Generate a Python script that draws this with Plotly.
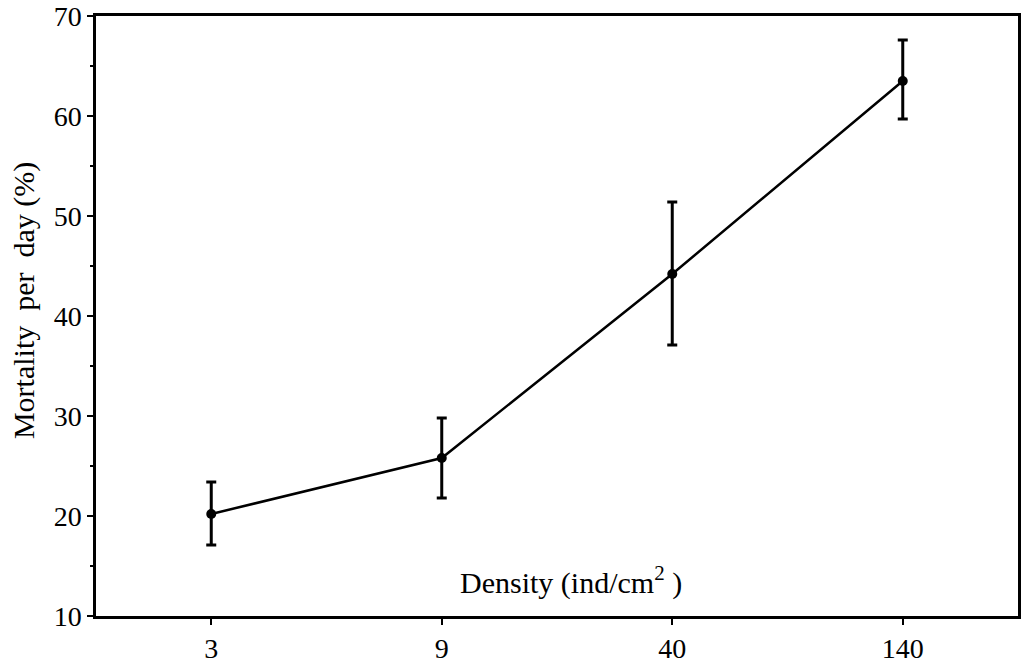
import plotly.graph_objects as go

densities = ["3", "9", "40", "140"]
mortality = [20.2, 25.8, 44.2, 63.5]
err_plus = [3.2, 4.0, 7.2, 4.1]
err_minus = [3.1, 4.0, 7.1, 3.8]
y_ticks = [10, 20, 30, 40, 50, 60, 70]

FONT = "Liberation Serif"

fig = go.Figure()
fig.add_trace(go.Scatter(
    x=densities, y=mortality, mode="lines+markers",
    line=dict(color="black", width=2.5),
    marker=dict(color="black", size=10),
    error_y=dict(type="data", symmetric=False, array=err_plus, arrayminus=err_minus,
                 color="black", thickness=3, width=5),
    showlegend=False,
))

fig.add_annotation(
    xref="paper", yref="paper", x=0.515, y=0.06, xanchor="center", yanchor="middle",
    text="Density\u00a0(ind/cm<sup>2</sup>\u00a0)", showarrow=False,
    font=dict(family=FONT, size=30, color="black"),
)

fig.add_annotation(
    xref="paper", yref="paper", x=-0.078, y=0.525, xanchor="center", yanchor="middle",
    text="Mortality\u00a0\u00a0per\u00a0\u00a0day\u00a0(%)", showarrow=False, textangle=-90,
    font=dict(family=FONT, size=30, color="black"),
)

fig.update_layout(
    width=1022, height=668,
    margin=dict(l=96, r=1, t=13, b=52),
    paper_bgcolor="white", plot_bgcolor="white",
    font=dict(family=FONT, size=28, color="black"),
    xaxis=dict(
        type="category", range=[-0.5, 3.5],
        showgrid=False, zeroline=False,
        showline=True, linecolor="black", linewidth=2.5, mirror=True,
        ticks="outside", ticklen=6, tickwidth=2, tickcolor="black",
        tickfont=dict(family=FONT, size=28, color="black"),
        ticklabeloverflow="allow",
    ),
    yaxis=dict(
        range=[10, 70], tickvals=y_ticks,
        showgrid=False, zeroline=False,
        showline=True, linecolor="black", linewidth=2.5, mirror=True,
        ticks="outside", ticklen=6, tickwidth=2, tickcolor="black",
        minor=dict(dtick=5, ticks="outside", ticklen=3, tickwidth=1.5, tickcolor="black", showgrid=False),
        tickfont=dict(family=FONT, size=28, color="black"),
        ticklabeloverflow="allow",
    ),
)

fig.write_html("out.html")
